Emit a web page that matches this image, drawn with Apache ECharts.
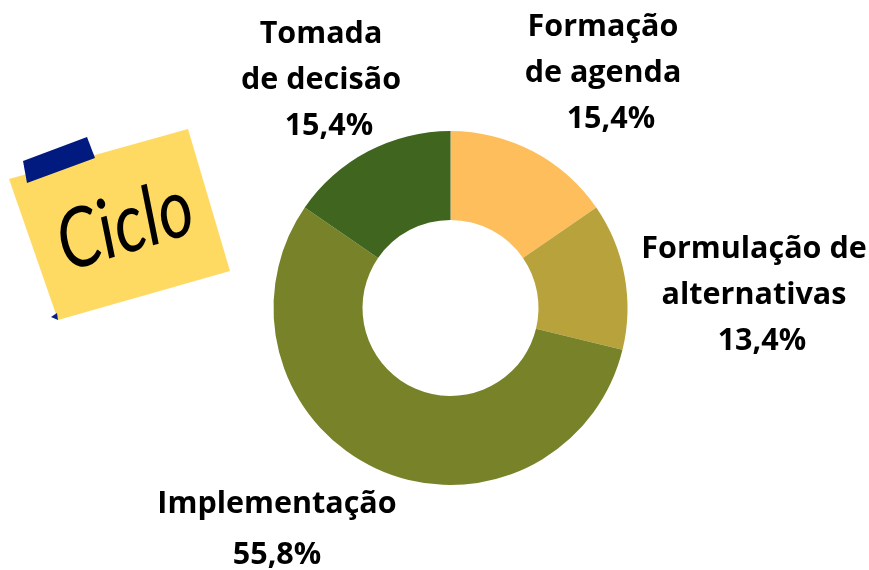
<!DOCTYPE html>
<html><head><meta charset="utf-8"><style>html,body{margin:0;padding:0;background:#fff}#c{width:869px;height:570px}</style>
<script src="https://cdn.jsdelivr.net/npm/echarts@6/dist/echarts.min.js"></script></head>
<body><div id="c"></div><script>
const categories = ['Formação\nde agenda','Formulação de\nalternativas','Implementação','Tomada\nde decisão'];
const values = [15.4,13.4,55.8,15.4];
const colors = ['#FFBE5C','#B8A23C','#788329','#3F651E'];
const noteTitle = 'Ciclo';
const labelAnchors = [[603,73],[754,295],[277,530],[321,80]];
const percentIndent = [2,2,0,2];
const FONT='"Open Sans","Noto Sans",sans-serif';
const chart = echarts.init(document.getElementById('c'),null,{renderer:'canvas'});
chart.setOption({
  animation:false,
  backgroundColor:'#fff',
  series:[{
    type:'pie',center:[450.5,308],radius:[88,177],startAngle:90,clockwise:true,
    silent:true,
    itemStyle:{borderWidth:0},
    data:categories.map((n,i)=>({name:n,value:values[i],itemStyle:{color:colors[i]},
      label:i===2?{lineHeight:51}:{}})),
    label:{show:true,position:'outside',overflow:'none',width:400,
      formatter:p=>p.name+'\n'+'\u00a0'.repeat(percentIndent[p.dataIndex])+p.value.toFixed(1).replace('.',',')+'%',
      fontFamily:FONT,fontWeight:'bold',fontSize:30.5,lineHeight:46,color:'#000',align:'center',verticalAlign:'middle'},
    labelLine:{show:false},
    labelLayout:p=>({x:labelAnchors[p.dataIndex][0],y:labelAnchors[p.dataIndex][1],align:'center',verticalAlign:'middle'})
  }],
  graphic:[
    {type:'polygon',shape:{points:[[9,179],[188,129],[230,271],[58,320]]},style:{fill:'#FFDA62'}},
    {type:'polygon',shape:{points:[[51,317],[57,313],[58,320]]},style:{fill:'#0A1F85'}},
    {type:'polygon',shape:{points:[[23,161],[87,137],[95,158],[27,183]]},style:{fill:'#001A80'}},
    {type:'text',x:125,y:226,rotation:17*Math.PI/180,scaleX:1.02,scaleY:1.25,style:{text:noteTitle,font:'italic 400 66px Lato',fill:'#000',align:'center',verticalAlign:'middle'}}
  ]
});
</script></body></html>
